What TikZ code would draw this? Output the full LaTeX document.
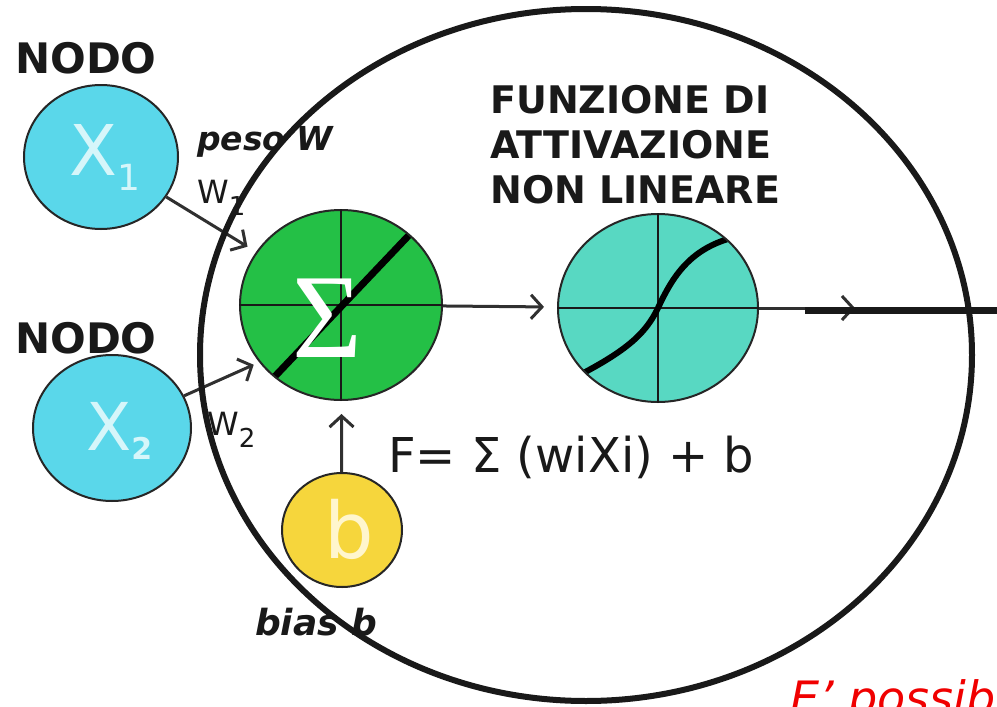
\documentclass[tikz,border=0pt]{standalone}
\usepackage{fontspec}
\setmainfont{DejaVu Sans}
\newfontfamily\sigfont{Liberation Serif}
\usetikzlibrary{shapes.geometric,arrows.meta}
\definecolor{cyanN}{RGB}{90,215,234}
\definecolor{greenN}{RGB}{36,192,70}
\definecolor{tealN}{RGB}{88,216,194}
\definecolor{yellowN}{RGB}{246,214,60}
\definecolor{arrowC}{RGB}{48,48,48}
\definecolor{lightC}{RGB}{214,246,250}
\definecolor{lightY}{RGB}{255,246,205}
\definecolor{redT}{RGB}{240,0,0}
\tikzset{
  neuron/.style={ellipse, draw=black!85, line width=2pt, inner sep=0pt},
  arr/.style={draw=arrowC, line width=3pt, -{Straight Barb[length=11pt,width=24pt]}},
  lbl/.style={inner sep=0pt, anchor=base west},
  grid/.style={draw=black!90, line width=1.8pt},
}
\begin{document}
\begin{tikzpicture}[x=1pt,y=-1pt]
\useasboundingbox (0,0) rectangle (997,707);
\clip (0,0) rectangle (997,707);
\fill[white] (0,0) rectangle (997,707);

% neurons
\node[neuron, fill=cyanN, minimum width=154pt, minimum height=144pt] (x1) at (101,157) {};
\node[neuron, fill=cyanN, minimum width=158pt, minimum height=146pt] (x2) at (112,428) {};
\node[neuron, fill=greenN, minimum width=202pt, minimum height=190pt] (sum) at (341,305) {};
\node[neuron, fill=tealN, minimum width=200pt, minimum height=188pt] (act) at (658,308) {};
\node[neuron, fill=yellowN, minimum width=120pt, minimum height=114pt] (b) at (342,530) {};

% grid lines in sum
\draw[grid] (sum.north) -- (sum.south);
\draw[grid] (sum.west) -- (sum.east);
\begin{scope}
  \clip (sum.center) ellipse [x radius=100, y radius=94];
  \draw[line width=7pt, black] (262,390) -- (412,232);
\end{scope}
% grid lines in act
\draw[grid] (act.north) -- (act.south);
\draw[grid] (act.west) -- (act.east);
\begin{scope}
  \clip (act.center) ellipse [x radius=99, y radius=93];
  \draw[line width=6pt, black] (570,380) .. controls (625,352) and (645,335) .. (658,308)
     .. controls (672,278) and (690,246) .. (740,236);
\end{scope}

% labels inside circles
\node[inner sep=0pt, text=lightC, anchor=base west] (x1l) at (69,175) {\fontsize{70}{70}\selectfont X\raisebox{-15pt}{\fontsize{36}{36}\selectfont 1}};
\node[inner sep=0pt, text=lightC, anchor=base west] (x2l) at (86,450) {\fontsize{66}{66}\selectfont X\raisebox{-9pt}{\fontsize{30}{30}\selectfont\bfseries 2}};
\node[inner sep=0pt, text=lightY, anchor=base] (bl) at (349,558) {\fontsize{78}{78}\selectfont b};
\node[inner sep=0pt, text=white, anchor=center] (sig) at (327,318) {\sigfont\fontsize{120}{120}\selectfont Σ};

% connectors
\draw[arr, shorten >=10pt] (x1) -- (sum.148);
\draw[arr, shorten >=6pt] (x2) -- (sum.215);
\draw[arr, shorten >=13pt] (b) -- (sum);
\draw[arr, shorten >=13pt] (sum) -- (act);
\coordinate (outtip) at (855,308);
\draw[arr] (act) -- (outtip);
\coordinate (o1) at (805,310);
\coordinate (o2) at (1000,310);
\draw[line width=7pt, black!90] (o1) -- (o2);

% texts
\node[lbl, font=\fontsize{42}{42}\selectfont\bfseries, text=black!90] (nodo1) at (15,73) {NODO};
\node[lbl, font=\fontsize{42}{42}\selectfont\bfseries, text=black!90] (nodo2) at (15,353) {NODO};
\node[lbl, font=\fontsize{33}{33}\selectfont\bfseries\itshape, text=black!90] (peso) at (197,150) {peso W};
\node[lbl, font=\fontsize{32}{32}\selectfont, text=black!90] (w1) at (197,203) {W\raisebox{-12pt}{\fontsize{26}{26}\selectfont 1}};
\node[lbl, font=\fontsize{32}{32}\selectfont, text=black!90] (w2) at (207,435) {W\raisebox{-12pt}{\fontsize{26}{26}\selectfont 2}};
\node[lbl, font=\fontsize{38}{38}\selectfont\bfseries, text=black!90] (f1) at (490,113) {FUNZIONE DI};
\node[lbl, font=\fontsize{38}{38}\selectfont\bfseries, text=black!90] (f2) at (490,158) {ATTIVAZIONE};
\node[lbl, font=\fontsize{38}{38}\selectfont\bfseries, text=black!90] (f3) at (490,203) {NON LINEARE};
\node[lbl, font=\fontsize{48}{48}\selectfont, text=black!90] (formula) at (388,472) {F= Σ (wiXi) + b};
\node[lbl, font=\fontsize{36}{36}\selectfont\bfseries\itshape, text=black!90] (bias) at (255,635) {bias b};

% big ellipse
\draw[line width=6pt, black!90] (586,355) ellipse [x radius=386, y radius=346];

\node[lbl, font=\fontsize{46}{46}\selectfont\itshape, text=redT] (note) at (790,714) {E’ possib};
\end{tikzpicture}
\end{document}
